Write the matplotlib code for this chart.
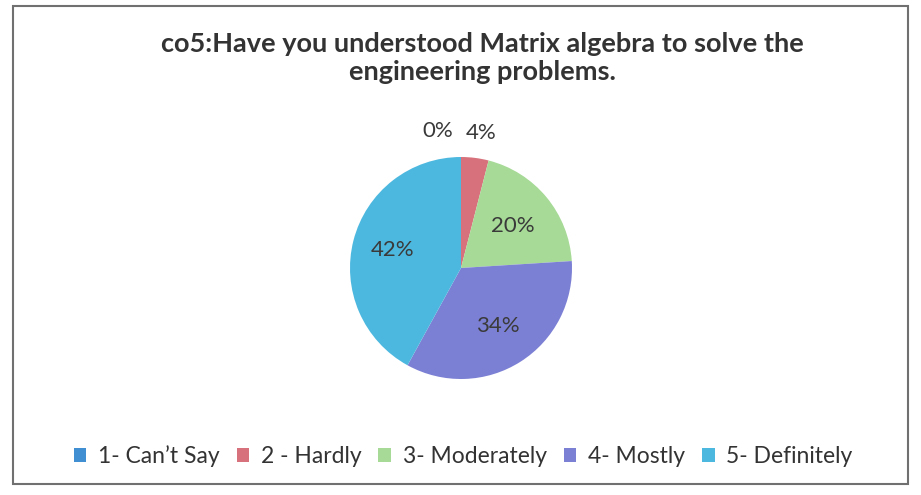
import matplotlib.pyplot as plt
from matplotlib.patches import Rectangle
import numpy as np

plt.rcParams['font.family'] = ['Lato', 'DejaVu Sans']

title = 'co5:Have you understood Matrix algebra to solve the\nengineering problems.'
labels = ['1- Can\u2019t Say', '2 - Hardly', '3- Moderately', '4- Mostly', '5- Definitely']
values = [0, 4, 20, 34, 42]
colors = ['#3f8fd2', '#d7727c', '#a6da96', '#7c80d4', '#4db8df']

W, H = 921, 495
fig = plt.figure(figsize=(W / 100, H / 100), dpi=100)
ax = fig.add_axes([0, 0, 1, 1])

cx, cy, r = 461, H - 268, 111
wedges, _ = ax.pie(values, colors=colors, startangle=90, counterclock=False,
                   center=(cx, cy), radius=r, frame=True)
ax.set_xlim(0, W)
ax.set_ylim(0, H)
ax.set_aspect('equal')
ax.axis('off')

# percentage labels, outside for the tiny slices
dist = [1.23, 1.23, 0.6, 0.62, 0.64]
for w, v, d in zip(wedges, values, dist):
    ang = np.deg2rad((w.theta1 + w.theta2) / 2)
    x = cx + d * r * np.cos(ang)
    y = cy + d * r * np.sin(ang)
    ha = 'center'
    if v == 0:
        x -= 8
        ha = 'right'
    else:
        x += 3 if d > 1 else 0
    ax.text(x, y, f'{v}%', ha=ha, va='center', fontsize=16, color='#3a3a3a')

fig.text(0.524, 1 - 58 / H, title, ha='center', va='center', fontsize=19.5,
         fontweight='bold', color='#333333', linespacing=1.15)

fig.legend(wedges, labels, loc='center', bbox_to_anchor=(463 / W, 1 - 456 / H),
           ncol=5, frameon=False, fontsize=16.5, handlelength=0.55, handleheight=0.55,
           handletextpad=0.5, columnspacing=0.75, labelcolor='#333333')

fig.patches.append(Rectangle((13 / W, 1 - 484 / H), 895 / W, 478 / H,
                             transform=fig.transFigure, fill=False,
                             edgecolor='#707070', linewidth=1.5))

fig.savefig('out.png', dpi=100, facecolor='white')
